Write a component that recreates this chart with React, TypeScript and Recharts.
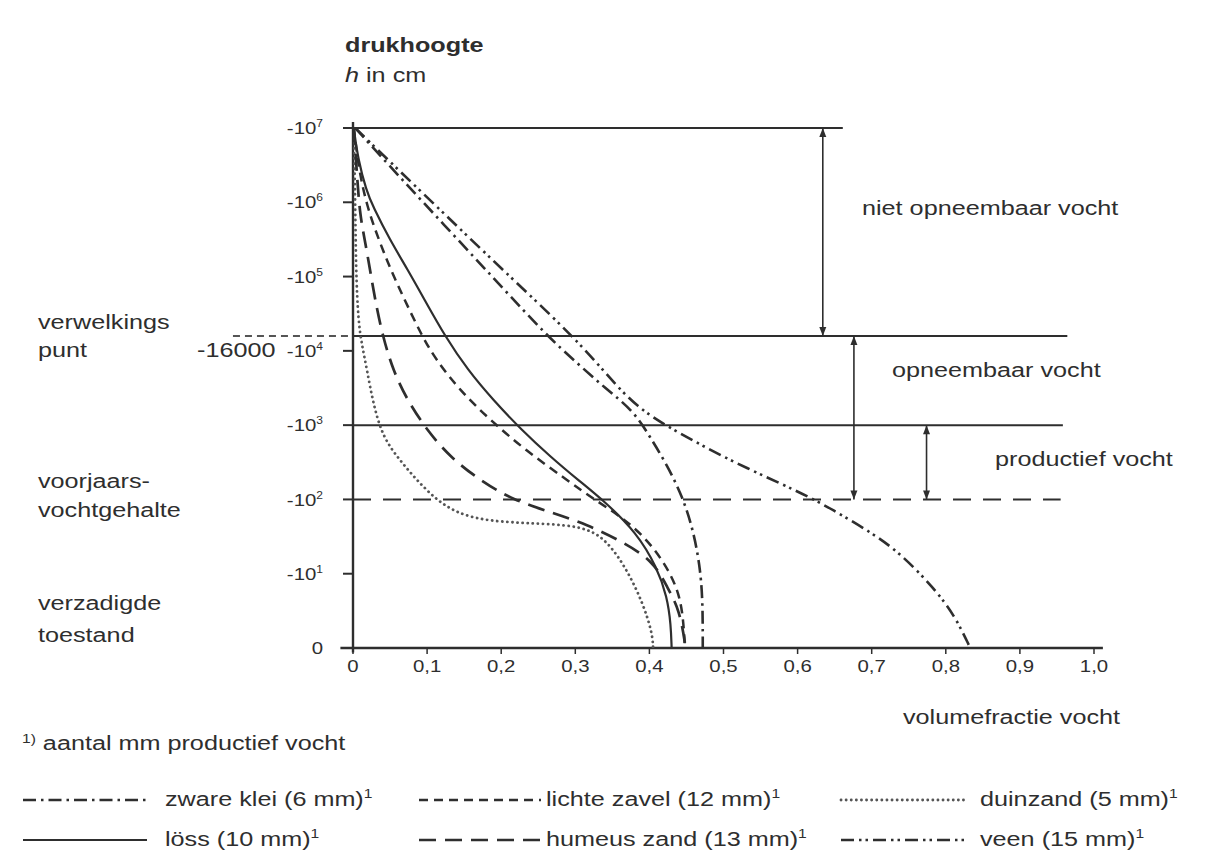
import React from 'react';
import { LineChart, Line, XAxis, YAxis, ReferenceLine, ReferenceDot } from 'recharts';

const FONT = '"Liberation Sans", Arial, Helvetica, sans-serif';
const INK = '#2e2e2e';
const SX = 1.2;

// ---- curves: volumefractie vocht (theta) vs pF (log10 of -h in cm) ----
const zwareKleiTheta = [0.003, 0.063, 0.131, 0.198, 0.262, 0.302, 0.34, 0.378, 0.401, 0.424, 0.445, 0.459, 0.468, 0.472, 0.472];
const zwareKleiPF = [7.0, 6.34, 5.61, 4.89, 4.2, 3.84, 3.5, 3.2, 2.84, 2.46, 2.03, 1.59, 1.12, 0.65, 0];

const veenTheta = [0.003, 0.063, 0.131, 0.198, 0.297, 0.34, 0.383, 0.437, 0.513, 0.603, 0.648, 0.7, 0.738, 0.783, 0.812, 0.833];
const veenPF = [7.0, 6.42, 5.77, 5.13, 4.2, 3.71, 3.23, 2.91, 2.5, 2.1, 1.86, 1.55, 1.28, 0.82, 0.44, 0];

const lossTheta = [0.001, 0.007, 0.018, 0.027, 0.05, 0.074, 0.097, 0.124, 0.155, 0.189, 0.228, 0.267, 0.304, 0.34, 0.383, 0.41, 0.424, 0.429, 0.43];
const lossPF = [7.0, 6.57, 6.16, 5.94, 5.49, 5.09, 4.68, 4.2, 3.74, 3.34, 2.93, 2.57, 2.26, 1.97, 1.55, 1.09, 0.69, 0.31, 0];

const lichteZavelTheta = [0.001, 0.008, 0.019, 0.035, 0.051, 0.07, 0.093, 0.112, 0.144, 0.185, 0.233, 0.289, 0.327, 0.363, 0.394, 0.418, 0.436, 0.445, 0.448];
const lichteZavelPF = [7.0, 6.43, 5.94, 5.49, 5.09, 4.68, 4.2, 3.88, 3.47, 3.07, 2.66, 2.26, 1.99, 1.76, 1.49, 1.18, 0.85, 0.51, 0];

const humeusZandTheta = [0.001, 0.005, 0.009, 0.016, 0.023, 0.03, 0.04, 0.054, 0.073, 0.1, 0.131, 0.171, 0.216, 0.27, 0.316, 0.36, 0.405, 0.424, 0.441, 0.449];
const humeusZandPF = [7.0, 6.43, 5.85, 5.49, 5.09, 4.68, 4.2, 3.74, 3.34, 2.93, 2.57, 2.26, 1.99, 1.82, 1.66, 1.45, 1.18, 0.82, 0.51, 0];

const duinzandTheta = [0.001, 0.003, 0.004, 0.007, 0.012, 0.019, 0.027, 0.04, 0.063, 0.086, 0.113, 0.14, 0.175, 0.229, 0.31, 0.343, 0.37, 0.391, 0.404, 0.405];
const duinzandPF = [7.0, 6.03, 5.09, 4.41, 4.08, 3.74, 3.3, 2.84, 2.53, 2.26, 1.99, 1.82, 1.72, 1.68, 1.655, 1.45, 1.05, 0.61, 0.2, 0];

// ---- axes ----
const xTicks = [0, 0.1, 0.2, 0.3, 0.4, 0.5, 0.6, 0.7, 0.8, 0.9, 1.0];
const xTickLabels = ['0', '0,1', '0,2', '0,3', '0,4', '0,5', '0,6', '0,7', '0,8', '0,9', '1,0'];
const yTicks = [0, 1, 2, 3, 4, 5, 6, 7];
const yTickExponents = ['', '1', '2', '3', '4', '5', '6', '7'];

// ---- guide lines ----
const levelPF = [7, 4.2, 3];
const levelEnd = [0.661, 0.964, 0.958];
const springPF = 2;
const springEnd = 0.955;
const wiltingLeadStart = -0.162;
const arrowTheta = [0.634, 0.676, 0.774];
const arrowTop = [7, 4.2, 3];
const arrowBottom = [4.2, 2, 2];

// ---- legend ----
const legendLabels = ['zware klei (6 mm)', 'lichte zavel (12 mm)', 'duinzand (5 mm)', 'löss (10 mm)', 'humeus zand (13 mm)', 'veen (15 mm)'];

const toPts = (t: number[], p: number[]) => t.map((v, i) => ({ theta: v, pf: p[i] }));

type Style = { dash?: string; width: number; cap?: 'round' | 'butt'; color: string };
const styles: Record<string, Style> = {
  zwareKlei: { dash: '13 5 2.5 5', width: 2.6, color: INK },
  lichteZavel: { dash: '9 6', width: 2.5, color: INK },
  duinzand: { dash: '0.1 5', width: 2.8, cap: 'round', color: '#555' },
  loss: { width: 2.2, color: INK },
  humeusZand: { dash: '17 9', width: 2.7, color: INK },
  veen: { dash: '13 5 2.5 4 2.5 5', width: 2.6, color: INK },
};

const series = [
  { key: 'zwareKlei', data: toPts(zwareKleiTheta, zwareKleiPF) },
  { key: 'lichteZavel', data: toPts(lichteZavelTheta, lichteZavelPF) },
  { key: 'duinzand', data: toPts(duinzandTheta, duinzandPF) },
  { key: 'loss', data: toPts(lossTheta, lossPF) },
  { key: 'humeusZand', data: toPts(humeusZandTheta, humeusZandPF) },
  { key: 'veen', data: toPts(veenTheta, veenPF) },
];
const legendKeys = ['zwareKlei', 'lichteZavel', 'duinzand', 'loss', 'humeusZand', 'veen'];

const YTick = (props: any) => {
  const { x, y, payload } = props;
  const i = yTicks.indexOf(payload.value);
  const exp = yTickExponents[i];
  return (
    <g transform={`translate(${x},${y}) scale(${SX},1)`}>
      <text textAnchor="end" dy="0.36em" fontSize={17} fontFamily={FONT} fill={INK}>
        {exp === '' ? '0' : (
          <>
            <tspan>-10</tspan>
            <tspan dy={-7} fontSize={10}>{exp}</tspan>
          </>
        )}
      </text>
    </g>
  );
};

const XTick = (props: any) => {
  const { x, y, payload } = props;
  const i = xTicks.findIndex((t) => Math.abs(t - payload.value) < 1e-6);
  return (
    <g transform={`translate(${x},${y}) scale(${SX},1)`}>
      <text textAnchor="middle" dy="0.78em" fontSize={17} fontFamily={FONT} fill={INK}>
        {xTickLabels[i]}
      </text>
    </g>
  );
};

const ArrowUp = (props: any) => {
  const { cx, cy } = props;
  return <polygon points={`${cx},${cy} ${cx - 3.5},${cy + 9} ${cx + 3.5},${cy + 9}`} fill={INK} />;
};
const ArrowDown = (props: any) => {
  const { cx, cy } = props;
  return <polygon points={`${cx},${cy} ${cx - 3.5},${cy - 9} ${cx + 3.5},${cy - 9}`} fill={INK} />;
};

const T = ({ x, y, children, size = 21, weight = 400 }: any) => (
  <text
    transform={`translate(${x} ${y}) scale(${SX} 1)`}
    fontSize={size}
    fontWeight={weight}
    fontFamily={FONT}
    fill={INK}
  >
    {children}
  </text>
);

const legendCols = [
  { x1: 23, x2: 147, tx: 165 },
  { x1: 419, x2: 541, tx: 546 },
  { x1: 841, x2: 965, tx: 980 },
];
const legendRows = [{ ly: 800, ty: 806 }, { ly: 840, ty: 846 }];

export default function App() {
  return (
    <div style={{ position: 'absolute', left: 0, top: 0, width: 1206, height: 864, background: '#fff' }}>
      <div style={{ position: 'absolute', left: 0, top: 0 }}>
        <LineChart width={1206} height={864} margin={{ top: 128, right: 112, bottom: 186, left: 293 }}>
          <XAxis
            type="number"
            dataKey="theta"
            domain={[0, 1]}
            ticks={xTicks}
            allowDataOverflow
            axisLine={false}
            tickLine={{ stroke: INK, strokeWidth: 1.5 }}
            tickSize={6}
            tickMargin={5}
            height={30}
            tick={<XTick />}
            interval={0}
          />
          <YAxis
            type="number"
            dataKey="pf"
            domain={[0, 7]}
            ticks={yTicks}
            allowDataOverflow
            axisLine={false}
            tickLine={{ stroke: INK, strokeWidth: 2 }}
            tickSize={10}
            tickMargin={20}
            width={60}
            tick={<YTick />}
            interval={0}
          />
          {/* axes */}
          <ReferenceLine segment={[{ x: 0, y: -0.06 }, { x: 0, y: 7.08 }]} stroke={INK} strokeWidth={2.4} ifOverflow="visible" />
          <ReferenceLine segment={[{ x: -0.017, y: 0 }, { x: 1.012, y: 0 }]} stroke={INK} strokeWidth={2.4} ifOverflow="visible" />
          {/* level lines */}
          {levelPF.map((p, i) => (
            <ReferenceLine key={'lv' + i} segment={[{ x: 0, y: p }, { x: levelEnd[i], y: p }]} stroke={INK} strokeWidth={2} ifOverflow="visible" />
          ))}
          <ReferenceLine segment={[{ x: wiltingLeadStart, y: 4.2 }, { x: 0, y: 4.2 }]} stroke="#555" strokeWidth={2} strokeDasharray="7 5" ifOverflow="visible" />
          <ReferenceLine segment={[{ x: 0, y: springPF }, { x: springEnd, y: springPF }]} stroke={INK} strokeWidth={2} strokeDasharray="18 12" ifOverflow="visible" />
          {/* arrows */}
          {arrowTheta.map((t, i) => (
            <ReferenceLine key={'ar' + i} segment={[{ x: t, y: arrowTop[i] }, { x: t, y: arrowBottom[i] }]} stroke={INK} strokeWidth={1.6} ifOverflow="visible" />
          ))}
          {arrowTheta.map((t, i) => (
            <ReferenceDot key={'au' + i} x={t} y={arrowTop[i]} r={4} ifOverflow="visible" shape={(p: any) => <ArrowUp {...p} />} />
          ))}
          {arrowTheta.map((t, i) => (
            <ReferenceDot key={'ad' + i} x={t} y={arrowBottom[i]} r={4} ifOverflow="visible" shape={(p: any) => <ArrowDown {...p} />} />
          ))}
          {/* curves */}
          {series.map((s) => {
            const st = styles[s.key];
            return (
              <Line
                key={s.key}
                data={s.data}
                dataKey="pf"
                type="basis"
                stroke={st.color}
                strokeWidth={st.width}
                strokeDasharray={st.dash}
                strokeLinecap={st.cap || 'butt'}
                dot={false}
                activeDot={false}
                isAnimationActive={false}
              />
            );
          })}
        </LineChart>
      </div>
      <svg width={1206} height={864} style={{ position: 'absolute', left: 0, top: 0, pointerEvents: 'none' }}>
        <T x={345} y={52} weight={700}>drukhoogte</T>
        <T x={345} y={82}>
          <tspan fontStyle="italic">h</tspan> in cm
        </T>
        <T x={38} y={329}>verwelkings</T>
        <T x={38} y={357}>punt</T>
        <T x={197} y={357}>-16000</T>
        <T x={38} y={488}>voorjaars-</T>
        <T x={38} y={517}>vochtgehalte</T>
        <T x={38} y={610}>verzadigde</T>
        <T x={38} y={642}>toestand</T>
        <T x={862} y={215}>niet opneembaar vocht</T>
        <T x={892} y={377}>opneembaar vocht</T>
        <T x={995} y={466}>productief vocht</T>
        <T x={903} y={724}>volumefractie vocht</T>
        <T x={22} y={750}>
          <tspan fontSize={13} dy={-7}>1)</tspan>
          <tspan dy={7}> aantal mm productief vocht</tspan>
        </T>
        {legendKeys.map((k, i) => {
          const col = legendCols[i % 3];
          const row = legendRows[Math.floor(i / 3)];
          const st = styles[k];
          return (
            <g key={k}>
              <line
                x1={col.x1}
                x2={col.x2}
                y1={row.ly}
                y2={row.ly}
                stroke={st.color}
                strokeWidth={st.width}
                strokeDasharray={st.dash}
                strokeLinecap={st.cap || 'butt'}
              />
              <T x={col.tx} y={row.ty}>
                {legendLabels[i]}
                <tspan fontSize={13} dy={-8}>1</tspan>
              </T>
            </g>
          );
        })}
      </svg>
    </div>
  );
}
